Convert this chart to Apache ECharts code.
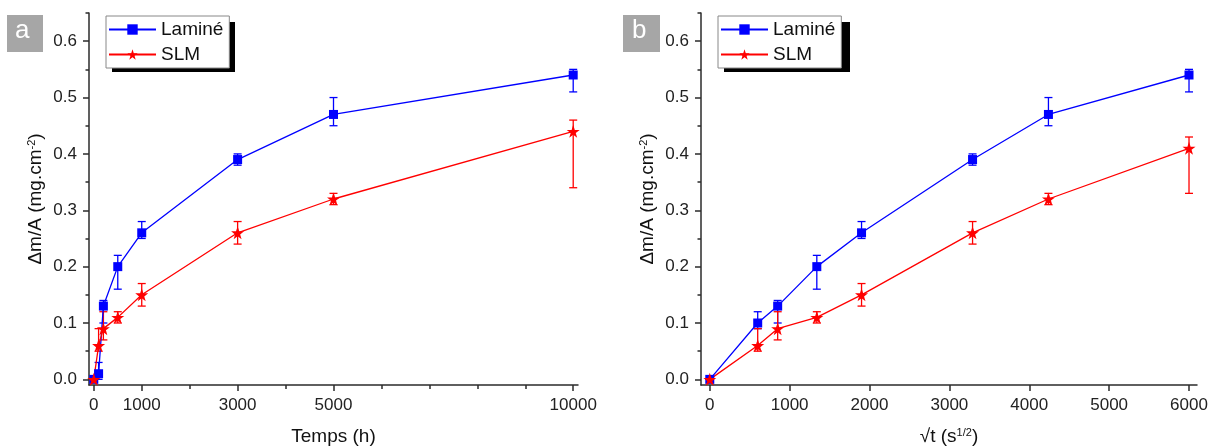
<!DOCTYPE html>
<html>
<head>
<meta charset="utf-8">
<script src="https://cdn.jsdelivr.net/npm/echarts@6/dist/echarts.min.js"></script>
<style>
html,body{margin:0;padding:0;background:#fff;}
#chart{width:1210px;height:448px;}
</style>
</head>
<body>
<div id="chart"></div>
<script>
// ---- Panel a: time in hours ----
const timeH = [0, 100, 200, 500, 1000, 3000, 5000, 10000];
const lamineA = [0, 0.01, 0.13, 0.20, 0.26, 0.39, 0.47, 0.54];
const lamineALow = [0, 0.00, 0.10, 0.16, 0.25, 0.38, 0.45, 0.51];
const lamineAHigh = [0, 0.03, 0.14, 0.22, 0.28, 0.40, 0.50, 0.55];
const slmA = [0, 0.06, 0.09, 0.11, 0.15, 0.26, 0.32, 0.44];
const slmALow = [0, 0.05, 0.07, 0.10, 0.13, 0.24, 0.31, 0.34];
const slmAHigh = [0, 0.09, 0.12, 0.12, 0.17, 0.28, 0.33, 0.46];

// ---- Panel b: square root of time (s^1/2) ----
const sqrtT = [0, 600, 850, 1340, 1900, 3290, 4240, 6000];
const lamineB = [0, 0.10, 0.13, 0.20, 0.26, 0.39, 0.47, 0.54];
const lamineBLow = [0, 0.09, 0.10, 0.16, 0.25, 0.38, 0.45, 0.51];
const lamineBHigh = [0, 0.12, 0.14, 0.22, 0.28, 0.40, 0.50, 0.55];
const slmB = [0, 0.06, 0.09, 0.11, 0.15, 0.26, 0.32, 0.41];
const slmBLow = [0, 0.05, 0.07, 0.10, 0.13, 0.24, 0.31, 0.33];
const slmBHigh = [0, 0.09, 0.12, 0.12, 0.17, 0.28, 0.33, 0.43];

// ---- Tick labels ----
const yTicks = [0, 0.1, 0.2, 0.3, 0.4, 0.5, 0.6];
const yMinorTicks = [0.05, 0.15, 0.25, 0.35, 0.45, 0.55, 0.65];
const xTicksA = [0, 1000, 3000, 5000, 10000];
const xMinorTicksA = [2000, 4000, 6000, 7000, 8000, 9000];
const xTicksB = [0, 1000, 2000, 3000, 4000, 5000, 6000];

const seriesNames = ['Laminé', 'SLM'];
const BLUE = '#0000ff', RED = '#ff0000';
const FONT = 'Liberation Sans, Arial, sans-serif';
const STAR = 'path://M50,0 L61.8,35.1 L98.1,35.1 L68.8,56.7 L79.4,91.0 L50,70 L20.6,91.0 L31.2,56.7 L1.9,35.1 L38.2,35.1 Z';

const axisLineStyle = {color: '#2b2b2b', width: 1.5};
const labelStyle = {color: '#222', fontSize: 17, fontFamily: FONT};

function zip(xs, ys) { return xs.map((x, i) => [x, ys[i]]); }
function zip3(xs, lo, hi) { return xs.map((x, i) => [x, lo[i], hi[i]]); }

function errorSeries(name, data, color, xi, yi) {
  return {
    type: 'custom', name: name, xAxisIndex: xi, yAxisIndex: yi, z: 1, clip: false,
    encode: {x: 0, y: [1, 2]},
    data: data,
    renderItem: function (params, api) {
      const x = api.value(0);
      const top = api.coord([x, api.value(2)]);
      const bot = api.coord([x, api.value(1)]);
      const cw = 4;
      const st = {stroke: color, lineWidth: 1.3};
      return {type: 'group', children: [
        {type: 'line', shape: {x1: top[0], y1: top[1], x2: bot[0], y2: bot[1]}, style: st},
        {type: 'line', shape: {x1: top[0] - cw, y1: top[1], x2: top[0] + cw, y2: top[1]}, style: st},
        {type: 'line', shape: {x1: bot[0] - cw, y1: bot[1], x2: bot[0] + cw, y2: bot[1]}, style: st}
      ]};
    }
  };
}

function lineSeries(name, data, color, symbol, size, xi, yi) {
  return {
    type: 'line', name: name, xAxisIndex: xi, yAxisIndex: yi, z: 3, clip: false,
    data: data, symbol: symbol, symbolSize: size, showSymbol: true,
    lineStyle: {color: color, width: 1.3},
    itemStyle: {color: color, borderWidth: 0},
    emphasis: {disabled: true}
  };
}

function mainY(gi) {
  return {
    type: 'value', gridIndex: gi, min: -0.01, max: 0.65, position: 'left',
    splitLine: {show: false},
    axisLine: {show: true, onZero: false, lineStyle: axisLineStyle},
    axisTick: {show: true, length: 6, customValues: yTicks, lineStyle: axisLineStyle},
    axisLabel: {show: true, margin: 12, customValues: yTicks, formatter: v => v.toFixed(1), ...labelStyle},
    name: 'Δm/A (mg.cm{sup|-2})', nameLocation: 'middle', nameGap: 44, nameRotate: 90,
    nameTextStyle: {fontSize: 19, color: '#111', fontFamily: FONT,
      rich: {sup: {fontSize: 11, color: '#111', fontFamily: FONT, verticalAlign: 'top', lineHeight: 19, padding: [0, 0, 6, 0]}}}
  };
}
function minorY(gi) {
  return {
    type: 'value', gridIndex: gi, min: -0.01, max: 0.65, position: 'left',
    splitLine: {show: false},
    axisLine: {show: false, onZero: false},
    axisTick: {show: true, length: 3.5, customValues: yMinorTicks, lineStyle: axisLineStyle},
    axisLabel: {show: false}
  };
}

function legendAt(left) {
  return {
    left: left, top: 16, orient: 'vertical', data: seriesNames,
    backgroundColor: '#fff', borderColor: '#888', borderWidth: 1,
    padding: [4, 6, 4, 2], itemWidth: 47, itemHeight: 13, itemGap: 6,
    textStyle: {fontSize: 19, color: '#111', fontFamily: FONT},
    selectedMode: false
  };
}

const option = {
  animation: false,
  backgroundColor: '#fff',
  grid: [
    {left: 89, top: 13, width: 489, height: 372, outerBoundsMode: 'none', containLabel: false},
    {left: 701, top: 13, width: 496, height: 372, outerBoundsMode: 'none', containLabel: false}
  ],
  xAxis: [
    {
      type: 'value', gridIndex: 0, min: -100, max: 10100, position: 'bottom',
      splitLine: {show: false},
      axisLine: {show: true, onZero: false, lineStyle: axisLineStyle},
      axisTick: {show: true, length: 6, customValues: xTicksA, lineStyle: axisLineStyle},
      axisLabel: {show: true, margin: 12, customValues: xTicksA, formatter: v => String(v), ...labelStyle},
      name: 'Temps (h)', nameLocation: 'middle', nameGap: 42,
      nameTextStyle: {fontSize: 19, color: '#111', fontFamily: FONT}
    },
    {
      type: 'value', gridIndex: 0, min: -100, max: 10100, position: 'bottom',
      splitLine: {show: false},
      axisLine: {show: false, onZero: false},
      axisTick: {show: true, length: 4, customValues: xMinorTicksA, lineStyle: axisLineStyle},
      axisLabel: {show: false}
    },
    {
      type: 'value', gridIndex: 1, min: -110, max: 6100, position: 'bottom',
      splitLine: {show: false},
      axisLine: {show: true, onZero: false, lineStyle: axisLineStyle},
      axisTick: {show: true, length: 6, customValues: xTicksB, lineStyle: axisLineStyle},
      axisLabel: {show: true, margin: 12, customValues: xTicksB, formatter: v => String(v), ...labelStyle},
      name: '√t (s{sup|1/2})', nameLocation: 'middle', nameGap: 42,
      nameTextStyle: {fontSize: 19, color: '#111', fontFamily: FONT,
        rich: {sup: {fontSize: 11, color: '#111', fontFamily: FONT, verticalAlign: 'top', lineHeight: 19, padding: [0, 0, 6, 0]}}}
    }
  ],
  yAxis: [mainY(0), minorY(0), mainY(1), minorY(1)],
  legend: [legendAt(106), legendAt(718)],
  graphic: [
    {type: 'rect', left: 112, top: 22, z: 0, shape: {width: 123, height: 50}, style: {fill: '#000'}},
    {type: 'rect', left: 724, top: 22, z: 0, shape: {width: 126, height: 50}, style: {fill: '#000'}},
    {type: 'rect', left: 7, top: 15, shape: {width: 36, height: 37}, style: {fill: '#a6a6a6'}},
    {type: 'text', left: 15, top: 18, style: {text: 'a', fill: '#fff', font: '26px ' + FONT}},
    {type: 'rect', left: 623, top: 15, shape: {width: 37, height: 37}, style: {fill: '#a6a6a6'}},
    {type: 'text', left: 632, top: 18, style: {text: 'b', fill: '#fff', font: '26px ' + FONT}}
  ],
  series: [
    errorSeries('errLamineA', zip3(timeH, lamineALow, lamineAHigh), BLUE, 0, 0),
    lineSeries('Laminé', zip(timeH, lamineA), BLUE, 'rect', 9, 0, 0),
    errorSeries('errSlmA', zip3(timeH, slmALow, slmAHigh), RED, 0, 0),
    lineSeries('SLM', zip(timeH, slmA), RED, STAR, 13, 0, 0),
    errorSeries('errLamineB', zip3(sqrtT, lamineBLow, lamineBHigh), BLUE, 2, 2),
    lineSeries('Laminé', zip(sqrtT, lamineB), BLUE, 'rect', 9, 2, 2),
    errorSeries('errSlmB', zip3(sqrtT, slmBLow, slmBHigh), RED, 2, 2),
    lineSeries('SLM', zip(sqrtT, slmB), RED, STAR, 13, 2, 2)
  ]
};

const chart = echarts.init(document.getElementById('chart'), null, {renderer: 'canvas'});
chart.setOption(option);
</script>
</body>
</html>
